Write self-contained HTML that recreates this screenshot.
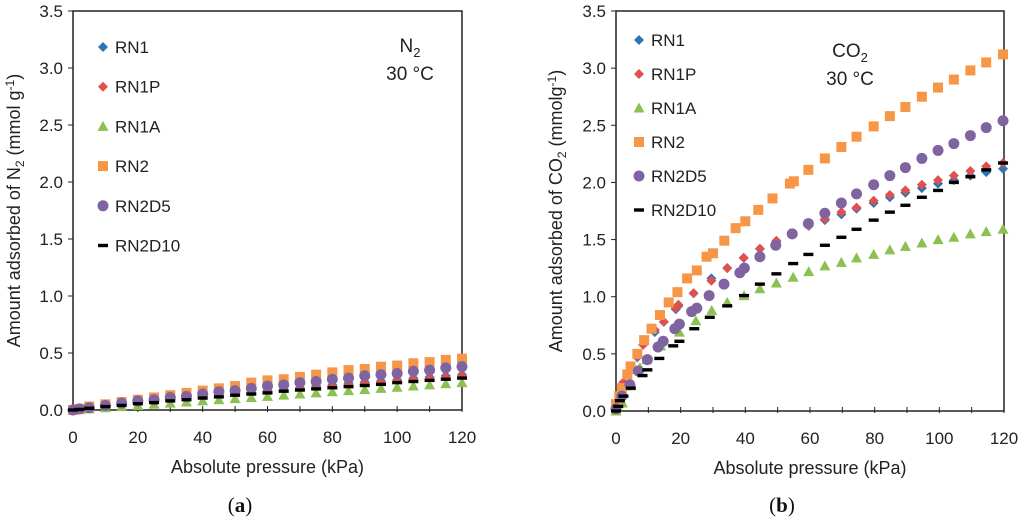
<!DOCTYPE html>
<html><head><meta charset="utf-8"><style>
html,body{margin:0;padding:0;background:#fff;}
svg{display:block;font-family:"Liberation Sans","DejaVu Sans",sans-serif;}
</style></head><body>
<svg id="fig" width="1024" height="526" viewBox="0 0 1024 526" xmlns="http://www.w3.org/2000/svg"></svg>
<script>
// ---- Panel (a): N2 ----
const n2X = [0,2,5,10,15,20,25,30,35,40,45,50,55,60,65,70,75,80,85,90,95,100,105,110,115,120];
const n2RN1 = [0,0.005,0.015,0.03,0.045,0.06,0.075,0.09,0.10,0.115,0.13,0.14,0.155,0.17,0.18,0.195,0.21,0.22,0.235,0.245,0.255,0.265,0.28,0.29,0.30,0.31];
const n2RN1P = [0,0.005,0.014,0.029,0.044,0.058,0.073,0.087,0.097,0.11,0.125,0.135,0.15,0.165,0.175,0.19,0.2,0.21,0.225,0.235,0.245,0.26,0.27,0.28,0.29,0.30];
const n2RN1A = [0,0.003,0.01,0.02,0.03,0.04,0.05,0.06,0.07,0.08,0.09,0.10,0.11,0.12,0.13,0.14,0.15,0.16,0.17,0.18,0.19,0.20,0.21,0.22,0.23,0.24];
const n2RN2 = [0,0.01,0.03,0.05,0.07,0.09,0.11,0.13,0.15,0.17,0.19,0.21,0.24,0.26,0.27,0.29,0.31,0.33,0.35,0.36,0.38,0.39,0.41,0.42,0.44,0.45];
const n2RN2D5 = [0,0.01,0.02,0.04,0.06,0.08,0.09,0.11,0.12,0.14,0.16,0.17,0.19,0.21,0.22,0.24,0.25,0.27,0.28,0.30,0.31,0.32,0.34,0.35,0.37,0.38];
const n2RN2D10 = [0,0.005,0.015,0.03,0.04,0.055,0.065,0.08,0.09,0.105,0.115,0.13,0.14,0.15,0.165,0.175,0.185,0.195,0.205,0.215,0.225,0.24,0.25,0.26,0.27,0.28];

// ---- Panel (b): CO2 ----
const coX_RN1 = [0,1,2.3,3.8,6.6,8.4,12,14.8,18.5,19.3,24,29.5,34.4,39.5,44.5,49.6,59.6,64.6,69.7,74.4,79.7,84.7,89.5,94.6,99.6,104.5,109.6,114.5,119.7];
const coRN1 = [0.03,0.12,0.25,0.33,0.47,0.58,0.69,0.78,0.89,0.92,1.03,1.16,1.25,1.34,1.42,1.48,1.62,1.67,1.72,1.77,1.82,1.87,1.91,1.95,1.99,2.02,2.06,2.09,2.12];
const coRN1P = [0.03,0.12,0.25,0.33,0.48,0.58,0.71,0.78,0.9,0.93,1.03,1.14,1.25,1.34,1.42,1.49,1.62,1.68,1.74,1.78,1.84,1.89,1.93,1.98,2.02,2.06,2.1,2.14,2.17];
const coX_RN1A = [0,2,4.3,7.4,9.5,13.8,19.6,24.7,29.6,34.4,39.6,44.5,49.6,54.8,59.6,64.6,69.7,74.4,79.7,84.7,89.5,94.6,99.6,104.5,109.6,114.5,119.7];
const coRN1A = [0,0.07,0.22,0.38,0.45,0.57,0.69,0.79,0.88,0.95,1.01,1.07,1.12,1.17,1.22,1.27,1.3,1.34,1.37,1.41,1.44,1.47,1.5,1.52,1.55,1.57,1.59];
const coX_RN2 = [0,1,1.8,3.5,4.5,6.6,8.7,11,13.6,16.3,19,22,25,28,30,33.5,37,40,44,48.4,53.8,55,59.5,64.6,69.7,74.4,79.7,84.7,89.5,94.6,99.6,104.5,109.6,114.5,119.7];
const coRN2 = [0.06,0.13,0.2,0.32,0.39,0.5,0.62,0.72,0.84,0.95,1.04,1.16,1.23,1.35,1.38,1.49,1.6,1.66,1.76,1.86,1.99,2.01,2.11,2.21,2.31,2.4,2.49,2.58,2.66,2.75,2.83,2.9,2.98,3.05,3.12];
const coX_RN2D5 = [0,1.8,4.3,6.9,9.7,13,14.6,18.2,19.6,23.4,25,28.8,33.4,38.3,39.7,44.5,49.4,54.5,59.5,64.6,69.7,74.4,79.7,84.7,89.5,94.6,99.6,104.5,109.6,114.5,119.7];
const coRN2D5 = [0.02,0.13,0.23,0.35,0.45,0.56,0.61,0.72,0.76,0.87,0.9,1.01,1.11,1.21,1.25,1.35,1.45,1.55,1.64,1.73,1.82,1.9,1.98,2.06,2.13,2.21,2.28,2.34,2.41,2.48,2.54];
const coX_RN2D10 = [0,0.7,1.2,2.3,4.6,8.2,9.7,13.4,17.7,19.6,24.2,29,34.4,39.6,44.5,49.6,54.8,59.5,64.6,69.7,74.4,79.7,84.7,89.5,94.6,99.6,104.5,109.6,114.5,119.7];
const coRN2D10 = [0,0.04,0.09,0.13,0.2,0.31,0.36,0.46,0.57,0.61,0.72,0.82,0.92,1.01,1.11,1.2,1.29,1.37,1.45,1.52,1.59,1.67,1.74,1.8,1.87,1.93,2.0,2.05,2.11,2.17];

const xTicks = [0,20,40,60,80,100,120];
const yTicks = ["0.0","0.5","1.0","1.5","2.0","2.5","3.0","3.5"];
const seriesNames = ["RN1","RN1P","RN1A","RN2","RN2D5","RN2D10"];

const NS = "http://www.w3.org/2000/svg";
const svg = document.getElementById('fig');
function mk(tag, attrs, parent){const e=document.createElementNS(NS,tag);for(const k in attrs)e.setAttribute(k,attrs[k]);(parent||svg).appendChild(e);return e;}

const styles = {
  RN1:{shape:'diamond',color:'#2E75B6'},
  RN1P:{shape:'diamond',color:'#E05050'},
  RN1A:{shape:'triangle',color:'#8CC152'},
  RN2:{shape:'square',color:'#F79646'},
  RN2D5:{shape:'circle',color:'#8064A2'},
  RN2D10:{shape:'dash',color:'#000000'}
};
function marker(g, shape, color, cx, cy){
  let e;
  if(shape==='diamond') e=mk('polygon',{points:`${cx},${cy-5} ${cx+5},${cy} ${cx},${cy+5} ${cx-5},${cy}`,fill:color},g);
  else if(shape==='triangle') e=mk('polygon',{points:`${cx},${cy-5.5} ${cx+5.5},${cy+4.5} ${cx-5.5},${cy+4.5}`,fill:color},g);
  else if(shape==='square') e=mk('rect',{x:cx-5,y:cy-5,width:10,height:10,fill:color},g);
  else if(shape==='circle') e=mk('circle',{cx:cx,cy:cy,r:5.5,fill:color},g);
  else e=mk('rect',{x:cx-5,y:cy-1.7,width:10,height:3.4,fill:color},g);
  return e;
}

function panel(cfg){
  const {L,R,T,B,id} = cfg;
  const xs = v => L + (v/120)*(R-L);
  const ys = v => B - (v/3.5)*(B-T);
  const g = mk('g',{});
  
  
  const fr = mk('rect',{x:L,y:T,width:R-L,height:B-T,fill:'none',stroke:'#222',"stroke-width":1.5},g);
  
  
  yTicks.forEach((t,i)=>{
    const y=ys(i*0.5);
    mk('line',{x1:L-5,x2:L,y1:y,y2:y,stroke:'#222',"stroke-width":1},g);
    const tx=mk('text',{x:L-10,y:y+6,"text-anchor":'end',"font-size":17,fill:'#222'},g);
    tx.textContent=t;
    
    
  });
  for(let v=0;v<=120;v+=10){
    const x=xs(v);
    mk('line',{x1:x,x2:x,y1:B-4,y2:B+2,stroke:'#222',"stroke-width":1},g);
  }
  xTicks.forEach(v=>{
    const tx=mk('text',{x:xs(v),y:B+33,"text-anchor":'middle',"font-size":17,fill:'#222'},g);
    tx.textContent=v;
    
    
  });
  const xt=mk('text',{x:(L+R)/2,y:B+63,"text-anchor":'middle',"font-size":18,fill:'#222'},g);
  xt.textContent='Absolute pressure (kPa)';
  
  
  const yt=mk('text',{transform:`translate(${cfg.ytx},${(T+B)/2}) rotate(-90)`,"text-anchor":'middle',"font-size":18,fill:'#222'},g);
  yt.innerHTML = cfg.ytitle;
  
  
  cfg.series.forEach(s=>{
    const sg=mk('g',{},g);
    
    
    const st=styles[s.name];
    s.y.forEach((v,i)=>{
      const m=marker(sg,st.shape,st.color,xs(s.x[i]),ys(v));
      
      
    });
  });
  const lg=mk('g',{},g);
  
  
  seriesNames.forEach((n,i)=>{
    const y=cfg.legY0+i*cfg.legDY;
    const e=mk('g',{},lg);
    
    
    marker(e,styles[n].shape,styles[n].color,cfg.legX,y);
    const t=mk('text',{x:cfg.legX+12,y:y+6,"font-size":17,fill:'#222'},e);
    t.textContent=n;
  });
  const a1=mk('text',{x:cfg.annX,y:cfg.annY,"text-anchor":'middle',"font-size":19,fill:'#222'},g);
  a1.innerHTML=cfg.gas;
  
  
  const a2=mk('text',{x:cfg.annX,y:cfg.annY+28,"text-anchor":'middle',"font-size":19,fill:'#222'},g);
  a2.textContent='30 °C';
  
  
  const c=mk('text',{x:cfg.capX,y:512,"text-anchor":'middle',"font-size":21,fill:'#111',"font-family":'Liberation Serif, serif'},g);
  c.innerHTML=cfg.cap;
  
  
}

panel({id:'panel-a',L:73,R:462,T:11,B:410,ytx:20,
  ytitle:'Amount adsorbed of N<tspan font-size="12" dy="4">2</tspan><tspan dy="-4"> (mmol g</tspan><tspan font-size="12" dy="-6">-1</tspan><tspan dy="6">)</tspan>',
  series:[
    {name:'RN1',x:n2X,y:n2RN1},{name:'RN1P',x:n2X,y:n2RN1P},{name:'RN1A',x:n2X,y:n2RN1A},
    {name:'RN2',x:n2X,y:n2RN2},{name:'RN2D5',x:n2X,y:n2RN2D5},{name:'RN2D10',x:n2X,y:n2RN2D10}],
  legX:103,legY0:47,legDY:39.7,annX:410,annY:52,
  gas:'N<tspan font-size="13" dy="5">2</tspan>',capX:240,cap:'(<tspan font-weight="bold">a</tspan>)'});

panel({id:'panel-b',L:616,R:1004,T:11,B:411,ytx:562,
  ytitle:'Amount adsorbed of CO<tspan font-size="12" dy="4">2</tspan><tspan dy="-4"> (mmolg</tspan><tspan font-size="12" dy="-6">-1</tspan><tspan dy="6">)</tspan>',
  series:[
    {name:'RN1',x:coX_RN1,y:coRN1},{name:'RN1P',x:coX_RN1,y:coRN1P},{name:'RN1A',x:coX_RN1A,y:coRN1A},
    {name:'RN2',x:coX_RN2,y:coRN2},{name:'RN2D5',x:coX_RN2D5,y:coRN2D5},{name:'RN2D10',x:coX_RN2D10,y:coRN2D10}],
  legX:639,legY0:40,legDY:34,annX:850,annY:57,
  gas:'CO<tspan font-size="13" dy="5">2</tspan>',capX:782,cap:'(<tspan font-weight="bold">b</tspan>)'});
</script>
</body></html>
